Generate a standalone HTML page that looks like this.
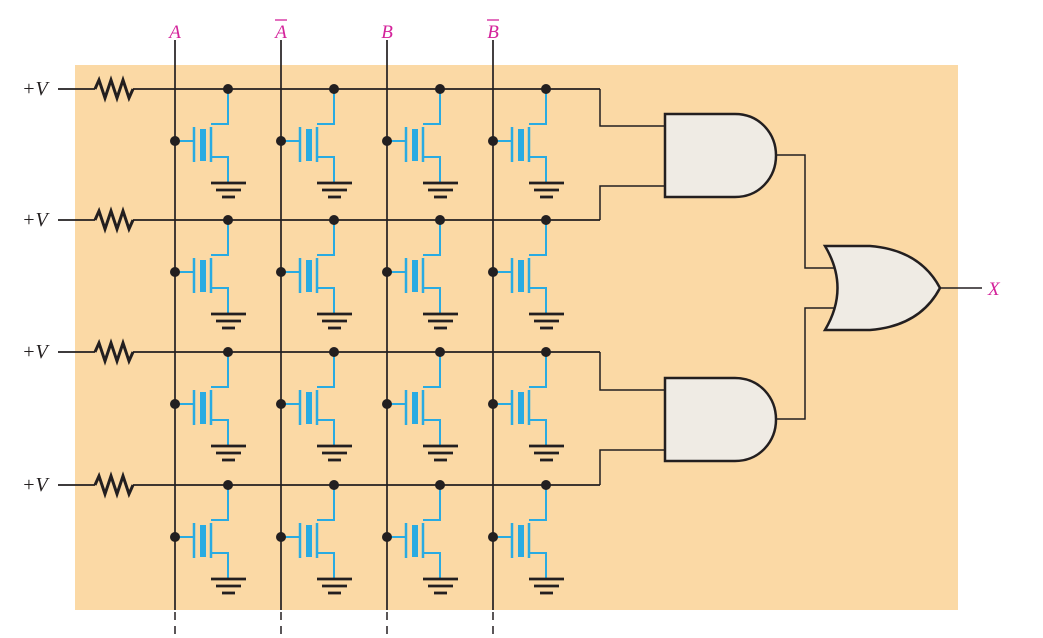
<!DOCTYPE html>
<html><head><meta charset="utf-8"><style>
html,body{margin:0;padding:0;background:#fff;}
svg{display:block;}
text{font-family:"Liberation Serif",serif;font-style:italic;}
</style></head><body>
<svg id="s" width="1043" height="638" viewBox="0 0 1043 638">
<rect x="75" y="65" width="883" height="545" fill="#fbd9a5"/>
<g id="g"></g>
</svg>
<script>
const cols = [175, 281, 387, 493];
const colLabels = ['A', 'A', 'B', 'B'];
const colBars = [false, true, false, true];
const rows = [89, 220, 352, 485];
const NS = 'http://www.w3.org/2000/svg';
const g = document.getElementById('g');
function el(tag, attrs, name, parent) {
  const e = document.createElementNS(NS, tag);
  for (const k in attrs) e.setAttribute(k, attrs[k]);
  
  
  (parent || g).appendChild(e);
  return e;
}
const K = '#231f20', BL = '#29abe2';
cols.forEach((x, i) => {
  el('line', {x1: x, y1: 40, x2: x, y2: 610, stroke: K, 'stroke-width': 1.7}, 'column-line');
  el('line', {x1: x, y1: 612, x2: x, y2: 638, stroke: K, 'stroke-width': 1.5, 'stroke-dasharray': '8,6'}, 'column-line-dashed');
  const t = el('text', {x: x, y: 38, 'text-anchor': 'middle', fill: '#d4239b', 'font-size': 19}, 'column-label');
  t.textContent = colLabels[i];
  if (colBars[i]) el('line', {x1: x - 6, y1: 20, x2: x + 6, y2: 20, stroke: '#d4239b', 'stroke-width': 1.3}, 'column-label-bar');
});
rows.forEach((y, r) => {
  const t = el('text', {x: 22, y: y + 6, fill: K, 'font-size': 20}, 'supply-label');
  t.textContent = '+V';
  el('line', {x1: 58, y1: y, x2: 95, y2: y, stroke: K, 'stroke-width': 1.7}, 'row-wire');
  el('polyline', {points: `95,${y} 99,${y-9} 105,${y+9} 111,${y-9} 117,${y+9} 123,${y-9} 129,${y+9} 133,${y}`, fill: 'none', stroke: K, 'stroke-width': 3, 'stroke-linejoin': 'miter'}, 'pullup-resistor');
  el('line', {x1: 133, y1: y, x2: 600, y2: y, stroke: K, 'stroke-width': 1.7}, 'row-line');
  cols.forEach(cx => {
    const d = cx + 53;
    el('polyline', {points: `${cx+36},${y+35} ${d},${y+35} ${d},${y}`, fill: 'none', stroke: BL, 'stroke-width': 2}, 'drain-wire');
    el('polyline', {points: `${cx+36},${y+68} ${d},${y+68} ${d},${y+94}`, fill: 'none', stroke: BL, 'stroke-width': 2}, 'source-wire');
    el('line', {x1: cx, y1: y + 52, x2: cx + 19, y2: y + 52, stroke: BL, 'stroke-width': 2}, 'gate-wire');
    el('circle', {cx: d, cy: y, r: 5, fill: K}, 'drain-node');
    el('circle', {cx: cx, cy: y + 52, r: 5, fill: K}, 'gate-node');
    el('line', {x1: cx + 19, y1: y + 38, x2: cx + 19, y2: y + 73, stroke: BL, 'stroke-width': 2.5}, 'gate-plate');
    el('rect', {x: cx + 25, y: y + 40, width: 6, height: 32, fill: BL}, 'channel');
    el('line', {x1: cx + 36, y1: y + 38, x2: cx + 36, y2: y + 73, stroke: BL, 'stroke-width': 2.5}, 'channel-line');
    el('line', {x1: d - 17, y1: y + 94, x2: d + 18, y2: y + 94, stroke: K, 'stroke-width': 2.8}, 'ground-1');
    el('line', {x1: d - 12, y1: y + 101, x2: d + 13, y2: y + 101, stroke: K, 'stroke-width': 2.8}, 'ground-2');
    el('line', {x1: d - 6, y1: y + 108, x2: d + 7, y2: y + 108, stroke: K, 'stroke-width': 2.8}, 'ground-3');
  });
});
const W = {fill: 'none', stroke: K, 'stroke-width': 1.5};
el('polyline', Object.assign({points: `600,${rows[0]} 600,126 665,126`}, W), 'and1-input-a');
el('polyline', Object.assign({points: `600,${rows[1]} 600,186 665,186`}, W), 'and1-input-b');
el('polyline', Object.assign({points: `600,${rows[2]} 600,390 665,390`}, W), 'and2-input-a');
el('polyline', Object.assign({points: `600,${rows[3]} 600,450 665,450`}, W), 'and2-input-b');
el('polyline', Object.assign({points: `775,155 805,155 805,268 836,268`}, W), 'or-input-a');
el('polyline', Object.assign({points: `775,419 805,419 805,308 836,308`}, W), 'or-input-b');
el('line', {x1: 940, y1: 288, x2: 982, y2: 288, stroke: K, 'stroke-width': 1.5}, 'output-wire');
const GF = {fill: '#efebe4', stroke: K, 'stroke-width': 2.5};
el('path', Object.assign({d: 'M665,114 H735 C760,114 776,134 776,155.5 C776,177 760,197 735,197 H665 Z'}, GF), 'and-gate-1');
el('path', Object.assign({d: 'M665,378 H735 C760,378 776,398 776,419.5 C776,441 760,461 735,461 H665 Z'}, GF), 'and-gate-2');
el('path', Object.assign({d: 'M825,246 H870 Q920,250 940,288 Q920,326 870,330 H825 Q850,288 825,246 Z'}, GF), 'or-gate');
const xt = el('text', {x: 988, y: 295, fill: '#d4239b', 'font-size': 19}, 'output-label-x');
xt.textContent = 'X';
</script>
</body></html>
